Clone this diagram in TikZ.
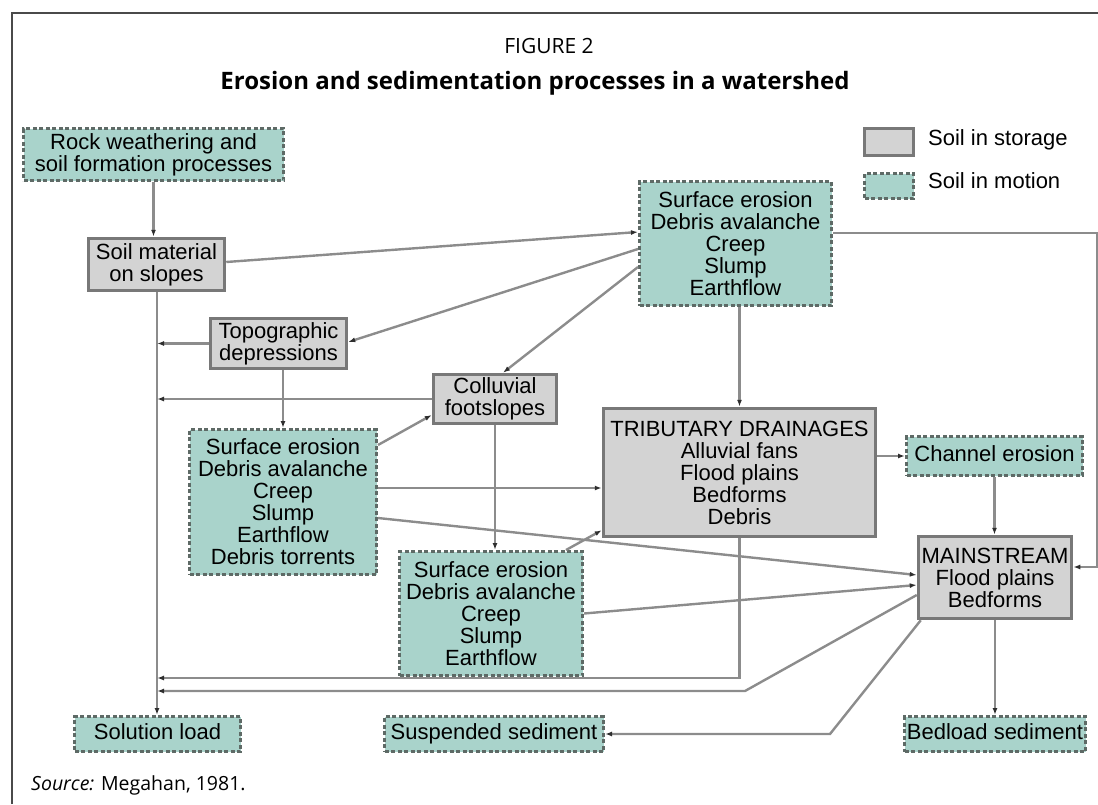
\documentclass[tikz,border=0pt]{standalone}
\usepackage{fontspec}
\setmainfont{Liberation Sans}
\newfontfamily\capfont{Open Sans}
\usetikzlibrary{arrows.meta}

\definecolor{movefill}{HTML}{A9D3CB}
\definecolor{storefill}{HTML}{D3D3D3}
\definecolor{storeline}{HTML}{787878}
\definecolor{moveline}{HTML}{5E6A66}
\definecolor{linkgray}{HTML}{8C8C8C}
\definecolor{tipgray}{HTML}{2E2E2E}
\definecolor{framegray}{HTML}{4A4A4A}

\tikzset{
  box/.style={align=center, inner sep=0pt, font=\fontsize{22}{22}\selectfont},
  oneline/.style={text height=16pt, text depth=5pt},
  storage/.style={box, draw=storeline, line width=3.5pt, fill=storefill},
  motion/.style={box, draw=moveline, line width=3pt, dash pattern=on 4pt off 2.5pt, fill=movefill},
  link/.style={draw=linkgray, line width=2.4pt, -{Latex[length=7pt,width=5pt,color=tipgray]}},
}

\begin{document}
\begin{tikzpicture}[x=1pt,y=-1pt]
\useasboundingbox (0,0) rectangle (1098,804);
% frame and captions
\draw[framegray, line width=2pt] (12,804) -- (12,13) -- (1098,13);
\node[font=\capfont\fontsize{21}{21}\selectfont] (fig) at (549,46) {FIGURE 2};
\node[font=\capfont\bfseries\fontsize{24}{24}\selectfont] (title) at (535,83) {Erosion and sedimentation processes in a watershed};
\node[font=\capfont\fontsize{19.5}{19.5}\selectfont, anchor=west, inner sep=0pt] (src) at (31,785) {\textit{Source:} Megahan, 1981.};

% legend
\node[storage, minimum width=49pt, minimum height=27pt] (keystore) at (889,142) {};
\node[motion, minimum width=49pt, minimum height=25pt] (keymove) at (889,186) {};
\node[box, oneline, anchor=west] (keystoretxt) at (928,140) {Soil in storage};
\node[box, oneline, anchor=west] (keymovetxt) at (928,183) {Soil in motion};

% boxes
\node[motion, minimum width=260pt, minimum height=52pt] (rock) at (153.5,154.5) {Rock weathering and\\soil formation processes};
\node[storage, minimum width=136pt, minimum height=52pt] (soil) at (156.5,264.5) {Soil material\\on slopes};
\node[motion, minimum width=192pt, minimum height=124pt] (topsurf) at (735.5,243.5) {Surface erosion\\Debris avalanche\\Creep\\Slump\\Earthflow};
\node[storage, minimum width=136pt, minimum height=50pt] (topo) at (278.5,343.5) {Topographic\\depressions};
\node[storage, minimum width=123pt, minimum height=49pt] (coll) at (495,399) {Colluvial\\footslopes};
\node[motion, minimum width=187pt, minimum height=145pt] (leftsurf) at (283,502) {Surface erosion\\Debris avalanche\\Creep\\Slump\\Earthflow\\Debris torrents};
\node[motion, minimum width=183pt, minimum height=124pt] (midsurf) at (491,613.5) {Surface erosion\\Debris avalanche\\Creep\\Slump\\Earthflow};
\node[storage, minimum width=272pt, minimum height=128pt] (trib) at (739.5,472.5) {TRIBUTARY DRAINAGES\\Alluvial fans\\Flood plains\\Bedforms\\Debris};
\node[motion, oneline, minimum width=176pt, minimum height=39pt] (chan) at (994.5,456) {Channel erosion};
\node[storage, minimum width=153pt, minimum height=82pt] (main) at (995,577.5) {MAINSTREAM\\Flood plains\\Bedforms};
\node[motion, oneline, minimum width=166pt, minimum height=35pt] (sol) at (157.5,734) {Solution load};
\node[motion, oneline, minimum width=219pt, minimum height=35pt] (susp) at (494,734) {Suspended sediment};
\node[motion, oneline, minimum width=181pt, minimum height=35pt] (bed) at (995,734) {Bedload sediment};

% helper points
\coordinate (spine) at (157,0);
\coordinate (rimtop) at (1097,233);
\coordinate (rimbot) at (1097,567);
\coordinate (low1) at (0,678);
\coordinate (kink1) at (745,691);
\coordinate (kink2) at (830,734);
\coordinate (ltrib) at ([yshift=14pt]leftsurf.east);

% connectors
\draw[link] (rock.south) -- (rock.south |- soil.north);
\draw[link] ([yshift=2.5pt]soil.east) -- ([yshift=11.5pt]topsurf.west);
\draw[link] ([yshift=-5.5pt]topsurf.west) -- ([yshift=1.5pt]topo.east);
\draw[link] ([yshift=-23.5pt]topsurf.west) -- ([xshift=8pt]coll.north);
\draw[link] (trib.north |- topsurf.south) -- (trib.north);
\draw[link] (topsurf.east |- rimtop) -- (rimtop) -- (rimbot) -- (main.east |- rimbot);
\draw[link] (soil.south -| spine) -- (sol.north -| spine);
\draw[link] (topo.west) -- (topo.west -| spine);
\draw[link] (topo.south -| leftsurf.north) -- (leftsurf.north);
\draw[link] (coll.west) -- (coll.west -| spine);
\draw[link] ([yshift=57pt]leftsurf.east) -- ([yshift=-16pt]coll.west);
\draw[link] (coll.south) -- (coll.south |- midsurf.north);
\draw[link] (ltrib) -- (ltrib -| trib.west);
\draw[link] ([yshift=-16pt]leftsurf.east) -- ([yshift=2.5pt]main.west);
\draw[link] ([xshift=-18pt]midsurf.north east) -- ([yshift=8pt]trib.south west);
\draw[link] (midsurf.east) -- ([yshift=-7.5pt]main.west);
\draw[link] (chan.west -| trib.east) -- (chan.west);
\draw[link] (chan.south) -- (chan.south |- main.north);
\draw[link] (main.south) -- (bed.north);
\draw[link] (trib.south) -- (trib.south |- low1) -- (spine |- low1);
\draw[link] ([yshift=-17.5pt]main.west) -- (kink1) -- (kink1 -| spine);
\draw[link] ([xshift=4pt]main.south west) -- (kink2) -- (kink2 -| susp.east);
\end{tikzpicture}
\end{document}
